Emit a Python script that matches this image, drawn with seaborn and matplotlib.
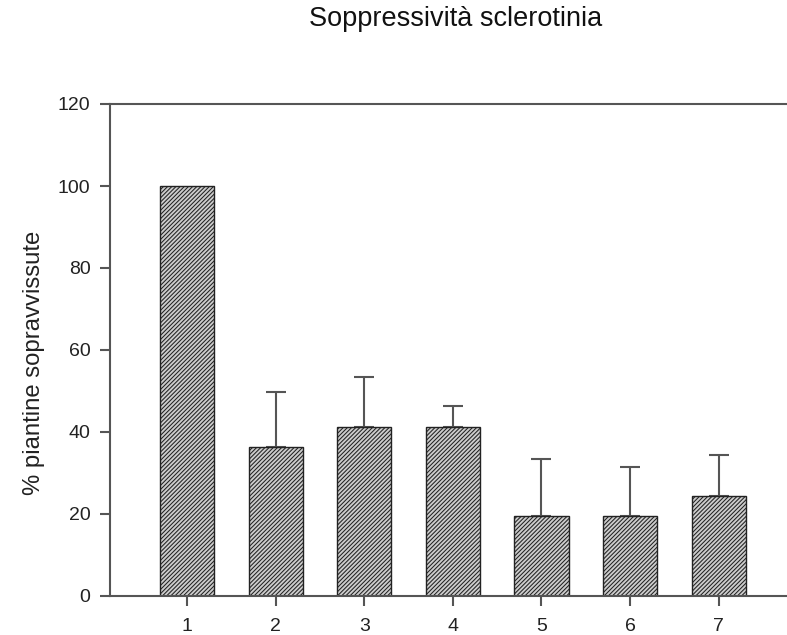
import matplotlib
matplotlib.use("Agg")
import matplotlib.pyplot as plt
import seaborn as sns
import pandas as pd

categories = ["1", "2", "3", "4", "5", "6", "7"]
values = [100.0, 36.3, 41.3, 41.3, 19.5, 19.5, 24.3]
err_upper = [0.0, 13.4, 12.0, 5.0, 14.0, 11.9, 10.2]
yticks = [0, 20, 40, 60, 80, 100, 120]

sns.set_style("white")
plt.rcParams['font.family'] = ['Liberation Sans', 'DejaVu Sans']
plt.rcParams['hatch.linewidth'] = 0.75

df = pd.DataFrame({"cat": categories, "val": values})

fig = plt.figure(figsize=(7.87, 6.35), dpi=100)
ax = fig.add_axes([110/787, 39/635, 1 - 110/787, (596-104)/635])

sns.barplot(data=df, x="cat", y="val", ax=ax, color="#cccccc",
            width=0.61, edgecolor="#222222", linewidth=1.0,
            errorbar=None, saturation=1, zorder=2)
for p in ax.patches:
    p.set_hatch("////////")

xs = [i for i, e in enumerate(err_upper) if e > 0]
vs = [values[i] for i in xs]
es = [err_upper[i] for i in xs]
ax.errorbar(xs, vs, yerr=[[0]*len(es), es], fmt="none",
            ecolor="#555555", elinewidth=1.5, capsize=7, capthick=1.5, zorder=1)

ax.set_xlim(-0.868, 6.77)
ax.set_ylim(0, 120)
ax.set_yticks(yticks)
ax.set_xlabel("")
ax.set_ylabel("% piantine sopravvissute", fontsize=17.2, color="#222222")
ax.yaxis.set_label_coords(-0.096, 0.4736)

ax.spines["right"].set_visible(False)
for s in ["left", "bottom", "top"]:
    ax.spines[s].set_color("#555555")
    ax.spines[s].set_linewidth(1.5)

ax.tick_params(axis="both", direction="out", length=7, width=1.5, color="#555555",
               labelsize=14, labelcolor="#222222", pad=7)
ax.tick_params(axis="x", bottom=True, pad=9)
ax.tick_params(axis="y", left=True)

fig.text(456/787, 1 - 19/635, "Soppressività sclerotinia", ha="center", va="center",
         fontsize=19.5, color="#111111")

fig.savefig("out.png", dpi=100)
